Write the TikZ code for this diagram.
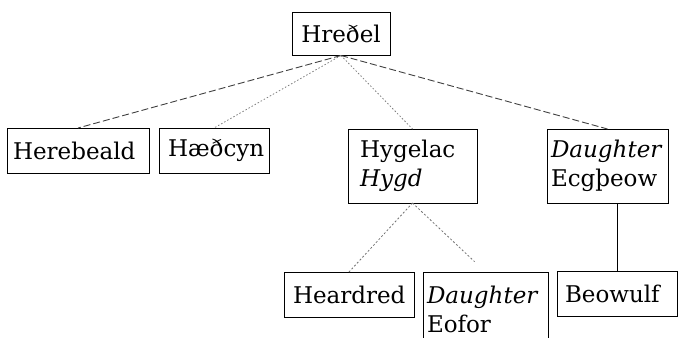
\documentclass[tikz,border=0pt]{standalone}
\usepackage{fontspec}
\setmainfont{DejaVu Serif}
\begin{document}
\begin{tikzpicture}[x=1pt,y=-1pt,
  box/.style={draw, line width=0.9pt, align=left, outer sep=0pt, inner ysep=2pt,
    font=\fontsize{23}{29}\selectfont},
  outerlink/.style={draw=black!75, line width=0.9pt, dash pattern=on 7pt off 3pt},
  innerlink/.style={draw=black!50, line width=0.8pt, dash pattern=on 1.5pt off 2pt},
  sublink/.style={draw=black!55, line width=0.8pt, dash pattern=on 2pt off 2pt},
  solidlink/.style={draw=black, line width=0.9pt}]
\useasboundingbox (0,0) rectangle (682,337);
\node[box, minimum width=98pt, minimum height=43pt, inner xsep=4pt] (hrethel) at (341,34) {Hreðel};
\node[box, minimum width=142pt, minimum height=45pt, inner xsep=6pt, text width=130pt] (herebeald) at (78,150.5) {Herebeald};
\node[box, minimum width=110pt, minimum height=45pt, inner xsep=9pt, text width=92pt] (haethcyn) at (214,150.5) {Hæðcyn};
\node[box, minimum width=129pt, minimum height=74pt, inner xsep=12pt, text width=105pt] (hygelac) at (412.5,166) {Hygelac\\\textit{Hygd}};
\node[box, minimum width=121pt, minimum height=74pt, inner xsep=4pt, text width=113pt] (ecgtheow) at (607.5,166) {\textit{Daughter}\\Ecgþeow};
\node[box, minimum width=130pt, minimum height=45pt, inner xsep=9pt, text width=112pt] (heardred) at (349,294.5) {Heardred};
\node[box, minimum width=125pt, minimum height=74pt, inner xsep=4pt, text width=117pt] (eofor) at (485.5,309) {\textit{Daughter}\\Eofor};
\node[box, minimum width=120pt, minimum height=45pt, inner xsep=8pt, text width=104pt] (beowulf) at (617,293.5) {Beowulf};
\path[outerlink] (hrethel.south) -- (herebeald.north);
\path[innerlink] (hrethel.south) -- (haethcyn.north);
\path[innerlink] (hrethel.south) -- (hygelac.north);
\path[outerlink] (hrethel.south) -- (ecgtheow.north);
\path[sublink] (hygelac.south) -- (heardred.north);
\path[sublink, shorten >=15pt] (hygelac.south) -- (eofor.north);
\path[solidlink] (beowulf.north) -- (beowulf.north |- ecgtheow.south);
\end{tikzpicture}
\end{document}
